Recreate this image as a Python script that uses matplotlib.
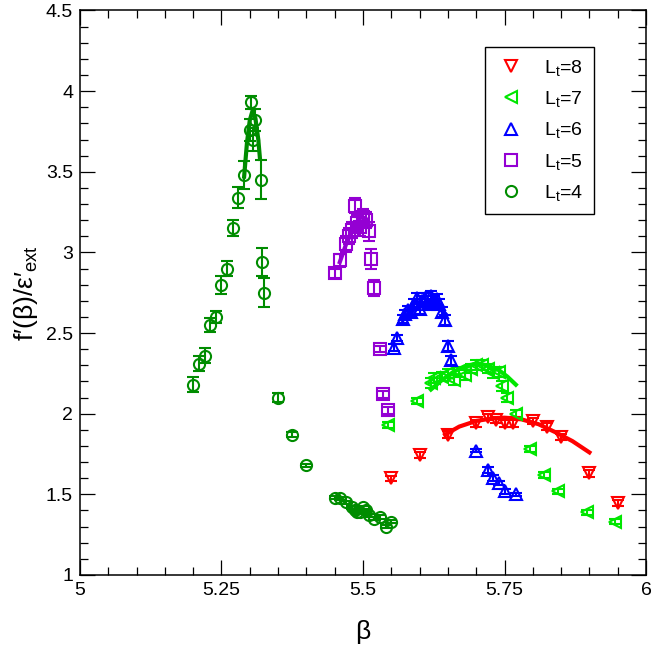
import numpy as np
import matplotlib
matplotlib.use('Agg')
import matplotlib.pyplot as plt
from matplotlib.lines import Line2D
from matplotlib.ticker import MultipleLocator, FormatStrFormatter

plt.rcParams['font.family'] = ['Liberation Sans', 'DejaVu Sans']
plt.rcParams['mathtext.fontset'] = 'custom'
plt.rcParams['mathtext.rm'] = 'Liberation Sans'
plt.rcParams['mathtext.it'] = 'Liberation Sans:italic'

# Lt=4
b4 = [5.20, 5.21, 5.22, 5.23, 5.24, 5.25, 5.26, 5.27, 5.28, 5.29, 5.30, 5.303, 5.306, 5.31, 5.32, 5.322, 5.325,
      5.35, 5.375, 5.40, 5.45, 5.46, 5.47, 5.48, 5.485, 5.49, 5.495, 5.50, 5.505, 5.51, 5.52, 5.53, 5.54, 5.55]
f4 = [2.18, 2.31, 2.36, 2.55, 2.60, 2.80, 2.90, 3.15, 3.34, 3.48, 3.76, 3.93, 3.70, 3.82, 3.45, 2.94, 2.75,
      2.10, 1.87, 1.68, 1.48, 1.475, 1.45, 1.42, 1.40, 1.39, 1.39, 1.42, 1.40, 1.37, 1.35, 1.36, 1.30, 1.33]
e4 = [0.045, 0.045, 0.045, 0.045, 0.036, 0.056, 0.048, 0.048, 0.067, 0.087, 0.07, 0.04, 0.07, 0.07, 0.12, 0.088, 0.09,
      0.03, 0.015, 0.01, 0.01, 0.01, 0.01, 0.01, 0.01, 0.01, 0.01, 0.01, 0.01, 0.01, 0.01, 0.01, 0.01, 0.01]
fit4_b = [5.29, 5.295, 5.30, 5.305, 5.31, 5.315, 5.318]
fit4_f = [3.47, 3.68, 3.82, 3.88, 3.83, 3.70, 3.58]

# Lt=5
b5 = [5.45, 5.46, 5.47, 5.475, 5.48, 5.485, 5.49, 5.495, 5.50, 5.505, 5.51, 5.515, 5.52, 5.53, 5.535, 5.545]
f5 = [2.87, 2.95, 3.05, 3.10, 3.14, 3.29, 3.18, 3.16, 3.22, 3.20, 3.13, 2.96, 2.78, 2.40, 2.12, 2.02]
e5 = [0.03, 0.04, 0.05, 0.05, 0.05, 0.045, 0.05, 0.06, 0.05, 0.05, 0.06, 0.06, 0.05, 0.02, 0.02, 0.02]
fit5_b = [5.459, 5.47, 5.48, 5.49, 5.497, 5.505, 5.512]
fit5_f = [2.94, 3.05, 3.13, 3.19, 3.22, 3.21, 3.16]

# Lt=6
b6 = [5.555, 5.56, 5.57, 5.575, 5.58, 5.585, 5.59, 5.595, 5.60, 5.605, 5.61, 5.615, 5.62, 5.625, 5.63, 5.635,
      5.64, 5.645, 5.65, 5.655, 5.70, 5.72, 5.73, 5.74, 5.75, 5.77]
f6 = [2.41, 2.47, 2.59, 2.62, 2.64, 2.63, 2.68, 2.72, 2.65, 2.70, 2.72, 2.68, 2.73, 2.70, 2.71, 2.68,
      2.63, 2.58, 2.42, 2.33, 1.77, 1.65, 1.60, 1.57, 1.52, 1.50]
e6 = [0.02, 0.02, 0.025, 0.025, 0.03, 0.03, 0.03, 0.03, 0.03, 0.03, 0.03, 0.03, 0.03, 0.03, 0.03, 0.03,
      0.03, 0.03, 0.03, 0.03, 0.01, 0.02, 0.02, 0.015, 0.015, 0.01]
fit6_b = [5.57, 5.59, 5.61, 5.63, 5.645]
fit6_f = [2.58, 2.65, 2.68, 2.67, 2.62]

# Lt=7
b7 = [5.545, 5.595, 5.62, 5.625, 5.64, 5.65, 5.66, 5.67, 5.68, 5.69, 5.70, 5.71, 5.72, 5.73, 5.74, 5.745,
      5.755, 5.77, 5.795, 5.82, 5.845, 5.895, 5.945]
f7 = [1.93, 2.08, 2.19, 2.22, 2.23, 2.25, 2.21, 2.26, 2.24, 2.28, 2.30, 2.30, 2.28, 2.25, 2.26, 2.17,
      2.10, 2.00, 1.78, 1.62, 1.52, 1.39, 1.33]
e7 = [0.02, 0.02, 0.03, 0.03, 0.03, 0.03, 0.03, 0.03, 0.03, 0.03, 0.03, 0.03, 0.03, 0.03, 0.03, 0.03,
      0.03, 0.02, 0.02, 0.02, 0.015, 0.015, 0.015]
fit7_b = [5.62, 5.64, 5.66, 5.68, 5.70, 5.72, 5.74, 5.755, 5.77]
fit7_f = [2.15, 2.21, 2.26, 2.295, 2.31, 2.30, 2.27, 2.23, 2.18]

# Lt=8
b8 = [5.55, 5.60, 5.65, 5.70, 5.72, 5.735, 5.75, 5.765, 5.80, 5.825, 5.85, 5.90, 5.95]
f8 = [1.60, 1.745, 1.87, 1.94, 1.98, 1.96, 1.94, 1.94, 1.955, 1.92, 1.855, 1.63, 1.445]
e8 = [0.015, 0.02, 0.02, 0.02, 0.02, 0.02, 0.02, 0.02, 0.02, 0.02, 0.02, 0.02, 0.02]
fit8_b = [5.645, 5.67, 5.70, 5.73, 5.75, 5.78, 5.81, 5.84, 5.87, 5.90]
fit8_f = [1.87, 1.92, 1.955, 1.972, 1.975, 1.965, 1.935, 1.885, 1.83, 1.76]

fig = plt.figure(figsize=(6.54, 6.54), dpi=100)
ax = fig.add_axes([0.1223, 0.1208, 0.8655, 0.8632])

series = [
    (b8, f8, e8, fit8_b, fit8_f, 'v', '#ff0000', 'L$_\\mathrm{t}$=8'),
    (b7, f7, e7, fit7_b, fit7_f, '<', '#00e600', 'L$_\\mathrm{t}$=7'),
    (b6, f6, e6, fit6_b, fit6_f, '^', '#0000ff', 'L$_\\mathrm{t}$=6'),
    (b5, f5, e5, fit5_b, fit5_f, 's', '#9400d3', 'L$_\\mathrm{t}$=5'),
    (b4, f4, e4, fit4_b, fit4_f, 'o', '#008c00', 'L$_\\mathrm{t}$=4'),
]

handles = []
for b, f, e, fb, ff, m, c, lab in series:
    ax.errorbar(b, f, yerr=e, fmt=m, ms=8, mfc='none', mec=c, mew=1.5,
                ecolor=c, elinewidth=1.5, capsize=4.5, capthick=1.5)
    ax.plot(fb, ff, '-', color=c, lw=3)
    handles.append(Line2D([], [], ls='none', marker=m, ms=8, mfc='none', mec=c, mew=1.5, label=lab))

ax.set_xlim(5, 6)
ax.set_ylim(1, 4.5)
ax.xaxis.set_major_locator(MultipleLocator(0.25))
ax.xaxis.set_minor_locator(MultipleLocator(0.05))
ax.yaxis.set_major_locator(MultipleLocator(0.5))
ax.yaxis.set_minor_locator(MultipleLocator(0.1))
ax.xaxis.set_major_formatter(FormatStrFormatter('%g'))
ax.yaxis.set_major_formatter(FormatStrFormatter('%g'))
ax.tick_params(which='both', direction='in', top=True, right=True, width=0.9, labelsize=14, pad=5)
ax.tick_params(which='major', length=11)
ax.tick_params(which='minor', length=5.5)
for s in ax.spines.values():
    s.set_linewidth(1.1)

ax.set_xlabel('β', fontsize=19, labelpad=15)
ax.set_ylabel("f′(β)/ε′$_\\mathrm{ext}$", fontsize=19, labelpad=4)

leg = ax.legend(handles=handles, loc='upper right', bbox_to_anchor=(0.908, 0.935), fontsize=14,
                frameon=True, fancybox=False, edgecolor='black', framealpha=1,
                handletextpad=0.9, labelspacing=0.58, borderpad=0.55, handlelength=1.6,
                borderaxespad=0)
leg.get_frame().set_linewidth(1.0)

fig.savefig('out.png', dpi=100)
